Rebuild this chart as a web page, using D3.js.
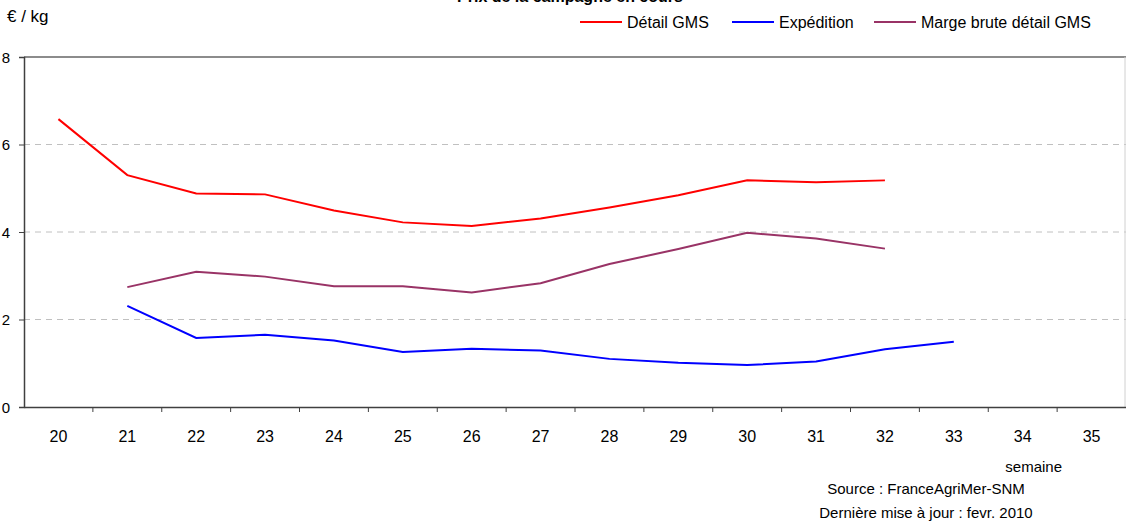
<!DOCTYPE html>
<html>
<head>
<meta charset="utf-8">
<script src="https://cdn.jsdelivr.net/npm/d3@7"></script>
<style>
  body { margin: 0; background: #fff; }
  text { font-family: "Liberation Sans", Arial, sans-serif; fill: #000; }
</style>
</head>
<body>
<div id="container"></div>
<script>
// Data
const weeks = ["20","21","22","23","24","25","26","27","28","29","30","31","32","33","34","35"];
const detailGMS = [6.58, 5.30, 4.88, 4.86, 4.49, 4.22, 4.14, 4.31, 4.56, 4.84, 5.18, 5.14, 5.18, null, null, null];
const expedition = [null, 2.31, 1.58, 1.65, 1.52, 1.26, 1.33, 1.29, 1.10, 1.01, 0.96, 1.04, 1.32, 1.49, null, null];
const margeBrute = [null, 2.74, 3.09, 2.98, 2.76, 2.76, 2.62, 2.83, 3.27, 3.61, 3.98, 3.85, 3.62, null, null, null];
const yTicks = [0, 2, 4, 6, 8];

const series = [
    { name: "Détail GMS", values: detailGMS, color: "#ff0000" },
    { name: "Expédition", values: expedition, color: "#0000ff" },
    { name: "Marge brute détail GMS", values: margeBrute, color: "#993366" }
];

const W = 1126, H = 524;
const margin = { top: 57, right: 0, bottom: 117, left: 24 };
const width = W - margin.left - margin.right;
const height = H - margin.top - margin.bottom;

const root = d3.select("#container")
    .append("svg")
    .attr("width", W)
    .attr("height", H);

const svg = root.append("g")
    .attr("transform", `translate(${margin.left},${margin.top})`);

// Scales
const xScale = d3.scaleBand().domain(weeks).range([0, width]);
const yScale = d3.scaleLinear().domain([0, 8]).range([height, 0]);

// Grid lines
svg.append("g")
    .selectAll("line")
    .data(yTicks.filter(d => d > 0 && d < 8))
    .enter()
    .append("line")
    .attr("x1", 0)
    .attr("x2", width)
    .attr("y1", d => yScale(d))
    .attr("y2", d => yScale(d))
    .attr("stroke", "#c0c0c0")
    .attr("stroke-dasharray", "6,5");

// Frame (top and right)
svg.append("line")
    .attr("x1", 0).attr("x2", width)
    .attr("y1", 0).attr("y2", 0)
    .attr("stroke", "#8c8c8c").attr("stroke-width", 2);
svg.append("line")
    .attr("x1", width - 1).attr("x2", width - 1)
    .attr("y1", 0).attr("y2", height)
    .attr("stroke", "#d0d0d0");

// Axes
const xAxis = svg.append("g")
    .attr("transform", `translate(0,${height})`)
    .call(d3.axisBottom(xScale).tickSize(0).tickPadding(24));
xAxis.select(".domain").attr("stroke", "#404040").attr("stroke-width", 1.5);
xAxis.selectAll("text").style("font-size", "16px").attr("fill", "#000");

// band boundary tick marks
xAxis.selectAll(".bandtick")
    .data(weeks.slice(1))
    .enter()
    .append("line")
    .attr("x1", d => xScale(d))
    .attr("x2", d => xScale(d))
    .attr("y1", 0)
    .attr("y2", 5)
    .attr("stroke", "#404040");

const yAxis = svg.append("g")
    .call(d3.axisLeft(yScale).tickValues(yTicks).tickSize(5).tickPadding(5));
yAxis.select(".domain").attr("stroke", "#404040").attr("stroke-width", 1.5);
yAxis.selectAll(".tick line").attr("stroke", "#404040");
yAxis.selectAll("text").style("font-size", "15px").attr("fill", "#000");
yAxis.selectAll(".tick text").attr("x", -14).attr("dy", "0.35em");

// Lines
const line = d3.line()
    .defined(d => d != null)
    .x((d, i) => xScale(weeks[i]) + xScale.bandwidth() / 2)
    .y(d => yScale(d));

series.forEach(s => {
    svg.append("path")
        .datum(s.values)
        .attr("fill", "none")
        .attr("stroke", s.color)
        .attr("stroke-width", 2)
        .attr("d", line);
});

// Title (cut off at the top, as in the original)
root.append("text")
    .attr("x", 570)
    .attr("y", 2)
    .attr("text-anchor", "middle")
    .style("font-size", "16px")
    .style("font-weight", "bold")
    .text("Prix de la campagne en cours");

// Unit
root.append("text")
    .attr("x", 7)
    .attr("y", 22)
    .style("font-size", "17px")
    .text("€ / kg");

// Legend
const legendX = [580, 732, 874];
const legend = root.append("g");
series.forEach((s, i) => {
    const g = legend.append("g").attr("transform", `translate(${legendX[i]},22)`);
    g.append("line")
        .attr("x1", 0).attr("x2", 42)
        .attr("y1", 0).attr("y2", 0)
        .attr("stroke", s.color)
        .attr("stroke-width", 2);
    g.append("text")
        .attr("x", 47)
        .attr("y", 6)
        .style("font-size", "16px")
        .text(s.name);
});

// Footer texts
root.append("text")
    .attr("x", 1062).attr("y", 472)
    .attr("text-anchor", "end")
    .style("font-size", "15px")
    .text("semaine");
root.append("text")
    .attr("x", 926).attr("y", 494)
    .attr("text-anchor", "middle")
    .style("font-size", "15px")
    .text("Source : FranceAgriMer-SNM");
root.append("text")
    .attr("x", 926).attr("y", 518)
    .attr("text-anchor", "middle")
    .style("font-size", "15px")
    .text("Dernière mise à jour : fevr. 2010");
</script>
</body>
</html>
